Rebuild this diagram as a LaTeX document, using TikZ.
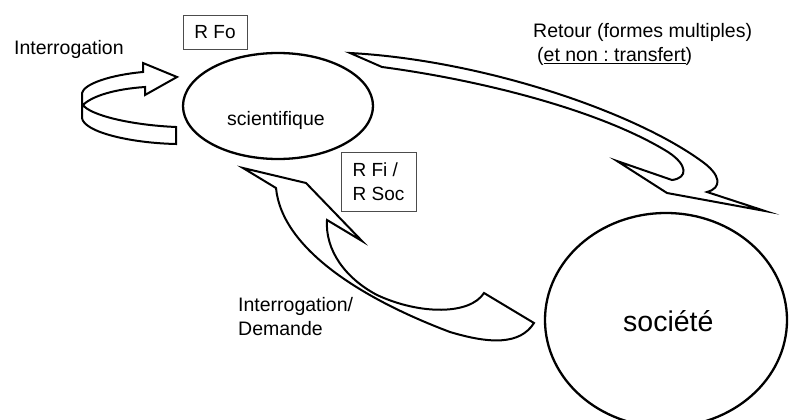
\documentclass[tikz,border=0pt]{standalone}
\usepackage{fontspec}
\setmainfont{Liberation Sans}
\usetikzlibrary{shapes.geometric}
\frenchspacing
\begin{document}
\begin{tikzpicture}[x=1pt,y=-1pt,
  txt/.style={inner sep=0pt, anchor=base west, font=\fontsize{19.5}{24}\selectfont},
  ribbon/.style={draw=black, line width=2pt, fill=white, line join=miter, miter limit=20},
  oval/.style={ellipse, draw=black, line width=2.3pt, inner sep=0pt},
  tagbox/.style={draw=black!70, line width=0.9pt, inner sep=0pt, font=\fontsize{19}{24}\selectfont}]
\fill[white] (0,0) rectangle (790,420);
\useasboundingbox (0,0) rectangle (790,420);

% ellipses
\node[oval, minimum width=190pt, minimum height=106pt] (sci) at (278,106) {};
\node[oval, minimum width=242pt, minimum height=214pt] (soc) at (666,320) {};
\node[txt] (scit) at (227,125) {scientifique};
\node[txt, font=\fontsize{28.5}{34}\selectfont] (soct) at (623,331) {société};

% loop arrow (Interrogation)
\draw[ribbon] (177,77) -- (143,63) -- (143,72)
  .. controls (110,75) and (84,84) .. (82,93) -- (82,118)
  .. controls (84,132) and (130,143) .. (176,144) -- (176,127)
  .. controls (130,125) and (90,115) .. (83,105)
  .. controls (92,96) and (115,89) .. (145,87) -- (145,95) -- cycle;

% retour arrow
\draw[ribbon] (350,53) .. controls (480,60) and (630,110) .. (700,160)
  .. controls (722,175) and (722,188) .. (707,192) -- (765,211) -- (667,193)
  -- (617,161) -- (672,180)
  .. controls (688,178) and (688,165) .. (668,152)
  .. controls (600,110) and (480,80) .. (382,67) -- cycle;

% interrogation / demande arrow
\draw[ribbon] (243,168) -- (276,188)
  .. controls (282,250) and (365,300) .. (450,332)
  .. controls (490,344) and (520,345) .. (534,323) -- (484,293)
  .. controls (470,315) and (420,315) .. (377,295)
  .. controls (345,278) and (325,250) .. (327,220)
  -- (362,241) -- (306,183) -- cycle;

% boxes
\node[tagbox, minimum width=64pt, minimum height=34pt] (rfo) at (215,32) {R Fo};
\node[tagbox, minimum width=75pt, minimum height=59pt, align=left] (rfi) at (378.5,181.5) {R Fi /\\R Soc};

% labels
\node[txt] (inter) at (14,55) {Interrogation};
\node[txt] (ret1) at (533,38) {Retour (formes multiples)};
\node[txt] (ret2) at (537,62) {(\underline{et non : transfert})};
\node[txt] (dem1) at (238,311) {Interrogation/};
\node[txt] (dem2) at (238,335) {Demande};
\end{tikzpicture}
\end{document}
